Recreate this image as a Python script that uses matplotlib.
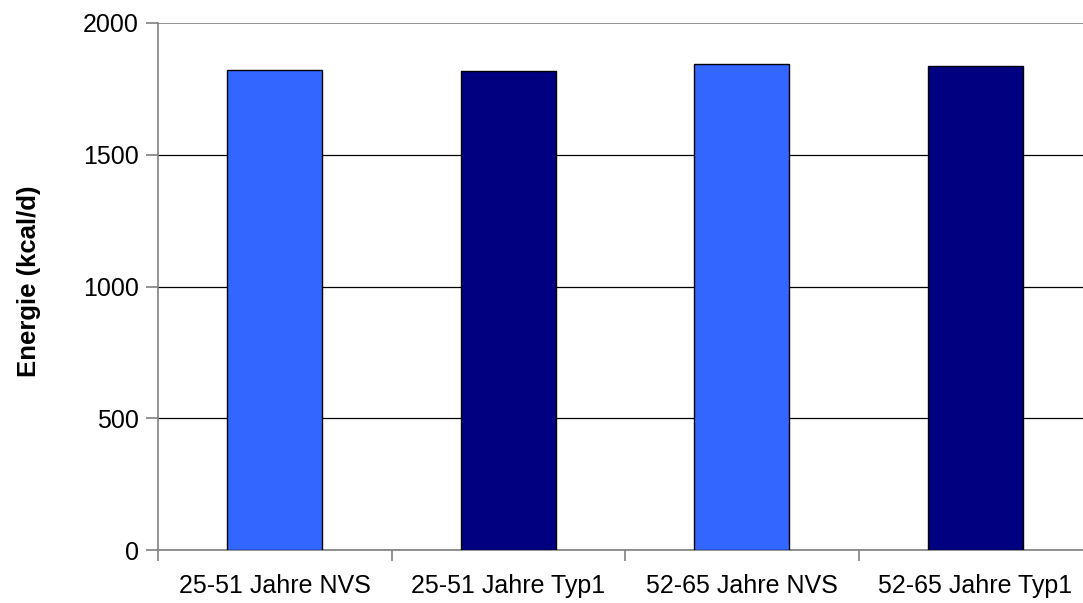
import matplotlib.pyplot as plt
import numpy as np

plt.rcParams['font.family'] = ['Liberation Sans', 'DejaVu Sans']

categories = ["25-51 Jahre NVS", "25-51 Jahre Typ1", "52-65 Jahre NVS", "52-65 Jahre Typ1"]
energie = [1822, 1819, 1846, 1838]
colors = ["#3366FF", "#000080", "#3366FF", "#000080"]
yticks = [0, 500, 1000, 1500, 2000]

fig = plt.figure(figsize=(10.83, 6.03), dpi=100)
# plot area runs a little past the right edge of the figure
ax = fig.add_axes([158 / 1083, 1 - 550 / 603, 934 / 1083, 527 / 603])

x = np.arange(len(categories))
ax.bar(x, energie, width=0.407, color=colors, edgecolor="black", linewidth=1, zorder=3)

ax.set_xlim(-0.5, len(categories) - 0.5)
ax.set_ylim(0, 2000)
ax.set_yticks(yticks)
ax.set_yticklabels([str(v) for v in yticks], fontsize=18)
ax.yaxis.grid(True, color="black", linewidth=0.9, zorder=0)
# top line doubles as the plot border
ax.get_ygridlines()[-1].set_color("#808080")
ax.get_ygridlines()[-1].set_linewidth(1.2)

# category labels centred under bars, tick marks on the category borders
ax.set_xticks(np.arange(len(categories) + 1) - 0.5)
ax.set_xticklabels([])
ax.set_xticks(x, minor=True)
ax.set_xticklabels(categories, minor=True, fontsize=18)
ax.tick_params(axis="x", which="minor", length=0, pad=17)
ax.tick_params(axis="x", which="major", length=8, color="#808080", width=1.2)
ax.tick_params(axis="y", length=9, color="#808080", width=1.2, pad=5)

for side in ["top", "right"]:
    ax.spines[side].set_visible(False)
ax.spines["left"].set_color("#808080")
ax.spines["left"].set_linewidth(1.2)
ax.spines["bottom"].set_color("#808080")
ax.spines["bottom"].set_linewidth(1.2)

ax.set_ylabel("Energie (kcal/d)", fontsize=18.5, fontweight="bold")
ax.yaxis.set_label_coords(-117 / 934, 0.51)

fig.savefig("out.png", dpi=100)
